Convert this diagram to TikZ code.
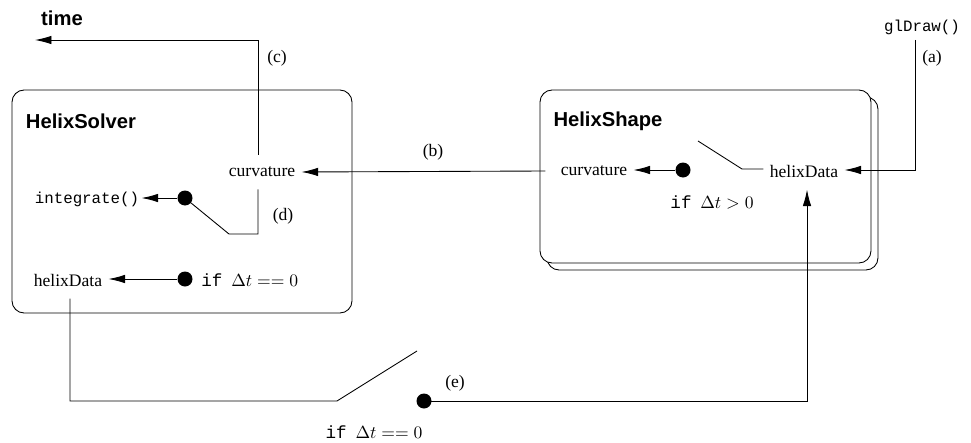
\documentclass[tikz,border=0pt]{standalone}
\usepackage{fontspec}
\setmainfont{Liberation Serif}
\setsansfont{Liberation Sans}
\setmonofont{Liberation Mono}
\usetikzlibrary{arrows.meta,calc}
\begin{document}
\begin{tikzpicture}[x=0.02cm,y=-0.02cm,
  line width=0.5pt,
  lbl/.style={font=\fontsize{10}{12}\selectfont, inner xsep=0.12cm, inner ysep=0.24cm},
  codetxt/.style={font=\fontsize{9}{11}\selectfont\ttfamily, inner xsep=0.04cm, inner ysep=0.24cm},
  condtxt/.style={font=\fontsize{10}{12}\selectfont, inner sep=0},
  hdr/.style={font=\fontsize{11.5}{14}\selectfont\sffamily\bfseries, inner sep=0},
  tagtxt/.style={font=\fontsize{10}{12}\selectfont, inner sep=0},
  blob/.style={circle, fill, inner sep=0, minimum size=0.3cm},
  boxframe/.style={draw, rounded corners=0.24cm, inner sep=0},
  arr/.style={-{Latex[length=3.3mm,width=1.7mm]}},
]
\useasboundingbox (0,0) rectangle (971,443);

% ---- component frames ----
\node[boxframe, minimum width=6.8cm, minimum height=4.46cm] (solver) at (182,201.5) {};
\node[boxframe, fill=white, minimum width=6.62cm, minimum height=3.46cm] (shapeBack) at (712.5,183.5) {};
\node[boxframe, fill=white, minimum width=6.62cm, minimum height=3.46cm] (shape) at (705.5,176.5) {};

% ---- headings ----
\node[hdr] (time) at (62,18) {time};
\node[hdr] (solverTitle) at (81,121) {HelixSolver};
\node[hdr] (shapeTitle) at (608,121) {HelixShape};

% ---- HelixSolver contents ----
\node[lbl] (lcurv) at (262,172) {curvature};
\node[codetxt] (integ) at (87,199) {integrate()};
\node[blob] (ldot) at (185,198) {};
\node[lbl] (lhd) at (68,280) {helixData};
\node[blob] (ldot2) at (185,279) {};
\node[condtxt, anchor=west] (lcond) at (201,280) {\texttt{if}~~$\Delta t == 0$};

% ---- HelixShape contents ----
\node[lbl] (rcurv) at (594,171) {curvature};
\node[blob] (rdot) at (683,170) {};
\node[lbl] (rhd) at (804,171) {helixData};
\node[condtxt] (rcond) at (712,202) {\texttt{if}~~$\Delta t > 0$};

% ---- outside ----
\node[codetxt, inner ysep=0.1cm] (gl) at (922,27) {glDraw()};
\node[blob] (bdot) at (424,401) {};
\node[condtxt] (bcond) at (374,432) {\texttt{if}~~$\Delta t == 0$};

% ---- connector labels ----
\node[tagtxt] (tagA) at (932,58) {(a)};
\node[tagtxt] (tagB) at (433,152) {(b)};
\node[tagtxt] (tagC) at (277,58) {(c)};
\node[tagtxt] (tagD) at (283,216) {(d)};
\node[tagtxt] (tagE) at (455,383) {(e)};

% ---- bend points ----
\coordinate (cCorner) at (258,40);
\coordinate (timeEnd) at (35,40);
\coordinate (dBend1) at (229,234);
\coordinate (dBend2) at (258,234);
\coordinate (rSw1) at (698,141);
\coordinate (rSw2) at (742,169);
\coordinate (glCorner) at (915,170);
\coordinate (bCorner1) at (70,401);
\coordinate (bSw1) at (337,401);
\coordinate (bSw2) at (417,351);
\coordinate (bCorner2) at (807,401);

% ---- connectors ----
% (c) curvature out to time
\draw[arr] (cCorner |- lcurv.north) -- (cCorner) -- (timeEnd);
% (b) curvature handed from shape to solver
\draw[arr] ($(rcurv.west)+(-9,0)$) -- (lcurv.east);
% (d) switch feeding integrate()
\draw[arr] (ldot.west) -- (integ.east |- ldot);
\draw (ldot.center) -- (dBend1) -- (dBend2) -- (dBend2 |- lcurv.south);
% solver helixData
\draw[arr] (ldot2.west) -- (lhd.east |- ldot2);
% shape curvature switch
\draw[arr] (rdot.west) -- (rcurv.east |- rdot);
\draw (rSw1) -- (rSw2) -- (rhd.west |- rSw2);
% (a) glDraw() into helixData
\draw[arr] (gl.south -| glCorner) -- (glCorner) -- (rhd.east |- glCorner);
% (e) helixData from solver back to shape
\draw (lhd.south -| bCorner1) -- (bCorner1) -- (bSw1) -- (bSw2);
\draw[arr] (bdot.center) -- (bCorner2) -- (bCorner2 |- rhd.south);
\end{tikzpicture}
\end{document}
